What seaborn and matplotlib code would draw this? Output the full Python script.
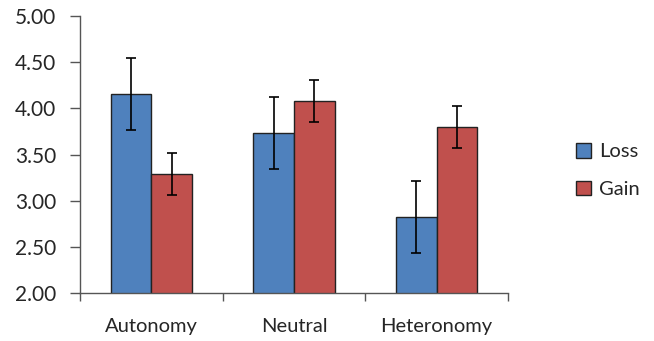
import matplotlib
matplotlib.use("Agg")
import matplotlib.pyplot as plt
import seaborn as sns
import pandas as pd
from matplotlib.patches import Patch

categories = ["Autonomy", "Neutral", "Heteronomy"]
series = ["Loss", "Gain"]
loss_vals = [4.16, 3.73, 2.83]
gain_vals = [3.29, 4.08, 3.80]
loss_err = [0.39, 0.39, 0.39]
gain_err = [0.23, 0.23, 0.23]
yticks = [2.0, 2.5, 3.0, 3.5, 4.0, 4.5, 5.0]

colors = {"Loss": "#4F81BD", "Gain": "#C0504D"}

df = pd.DataFrame({
    "cat": categories * 2,
    "series": ["Loss"] * 3 + ["Gain"] * 3,
    "val": loss_vals + gain_vals,
    "err": loss_err + gain_err,
})

sns.set_style("white")
plt.rcParams["font.family"] = ["Lato", "DejaVu Sans"]

fig = plt.figure(figsize=(6.54, 3.41), dpi=100)
ax = fig.add_axes([0.1223, 0.14, 0.6545, 0.813])

sns.barplot(data=df, x="cat", y="val", hue="series", order=categories,
            hue_order=series, palette=colors, width=0.57, errorbar=None,
            edgecolor="#222222", linewidth=1.0, saturation=1, ax=ax, legend=False)

# error bars at bar centers
for container, s in zip(ax.containers, series):
    sub = df[df.series == s].set_index("cat").loc[categories]
    xs = [p.get_x() + p.get_width() / 2 for p in container.patches]
    ax.errorbar(xs, sub["val"].values, yerr=sub["err"].values, fmt="none",
                ecolor="black", elinewidth=1.2, capsize=3.5, capthick=1.2, zorder=5)

ax.set_ylim(2.0, 5.0)
ax.set_xlim(-0.5, 2.5)
ax.set_yticks(yticks)
ax.set_yticklabels([f"{v:.2f}" for v in yticks], fontsize=15)
ax.set_xticks(range(len(categories)))
ax.set_xticklabels(categories, fontsize=14.5)
ax.tick_params(axis="x", which="major", length=0, pad=18)
ax.set_xticks([-0.5, 0.5, 1.5, 2.5], minor=True)
ax.tick_params(axis="x", which="minor", length=6, width=1, color="#555555", direction="out", bottom=True)
ax.tick_params(axis="y", length=7, width=1, color="#555555", direction="out", left=True, pad=10)
ax.set_xlabel("")
ax.set_ylabel("")
for side in ["top", "right"]:
    ax.spines[side].set_visible(False)
for side in ["left", "bottom"]:
    ax.spines[side].set_color("#555555")
    ax.spines[side].set_linewidth(1)

handles = [Patch(facecolor=colors[s], edgecolor="#222222", linewidth=1, label=s) for s in series]
fig.legend(handles=handles, loc="center left", bbox_to_anchor=(0.853, 0.50),
           frameon=False, fontsize=14.5, handlelength=0.75, handleheight=0.75,
           handletextpad=0.4, labelspacing=1.0)

fig.savefig("out.png", dpi=100)
